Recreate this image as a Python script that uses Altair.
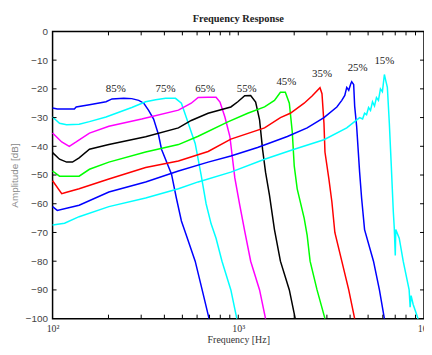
import altair as alt
import pandas as pd

# ---- data (frequency in Hz, amplitude in dB) ----
series_names = ["85%", "75%", "65%", "55%", "45%", "35%", "25%", "15%"]
series_colors = ["#0000ff", "#00ffff", "#ff00ff", "#000000", "#00ff00", "#ff0000", "#0000ff", "#00ffff"]

f85 = [100, 106, 131, 134, 158, 194, 209, 242, 267, 291, 310, 329, 350, 372, 386, 437, 464, 494, 525, 586, 639, 696]
a85 = [-26.7, -27, -27, -26.3, -25.5, -24.5, -23.5, -23.3, -23.4, -24, -25, -27.5, -30.5, -36, -41, -49.7, -58, -66, -71, -80, -90, -100]

f75 = [100, 109, 119, 139, 158, 194, 267, 317, 359, 406, 459, 494, 525, 558, 586, 631, 671, 714, 759, 817, 912, 982]
a75 = [-29.8, -32, -32.5, -32.3, -31.4, -29.8, -26.5, -24.5, -23.8, -23.3, -23.3, -25, -30, -35, -39, -50, -60, -67, -72, -80, -90, -100]

f65 = [100, 112, 123, 134, 158, 201, 302, 476, 558, 608, 688, 759, 797, 847, 901, 958, 1019, 1083, 1166, 1302, 1402]
a65 = [-35.4, -38.5, -40, -38.5, -35.4, -33, -30.5, -27.4, -25, -23, -22.9, -22.9, -24.6, -29.8, -36.6, -51, -60.6, -69.5, -80, -90, -100]

f55 = [100, 109, 119, 128, 139, 158, 201, 317, 476, 558, 688, 912, 994, 1083, 1166, 1240, 1302, 1351, 1402, 1472, 1566, 1686, 1883, 2026]
a55 = [-42.2, -44.5, -45.5, -45.5, -44, -41, -39.4, -36.7, -33.6, -31, -28.5, -26.3, -24.5, -22.4, -22.3, -24.6, -30.8, -41, -49, -57, -69, -80, -90, -100]

f45 = [100, 109, 139, 158, 201, 317, 476, 608, 879, 1124, 1385, 1566, 1686, 1792, 1883, 1953, 2001, 2076, 2263, 2349, 2436, 2655, 2929]
a45 = [-48.6, -50.4, -50.4, -48, -45.5, -42, -39.4, -36.5, -31.5, -28.5, -26.3, -24, -21.2, -21.2, -25, -35, -46.8, -54.8, -65, -71, -80, -90, -100]

f35 = [100, 112, 119, 139, 201, 317, 476, 688, 912, 1385, 1686, 1905, 2263, 2496, 2754, 2823, 2893, 2929, 3076, 3192, 3311, 3609, 3933, 4233]
a35 = [-52, -56.5, -56, -54.8, -51.4, -47.4, -45.1, -41.8, -37.5, -33.6, -30, -28.5, -25, -22.5, -19.6, -21.7, -32, -42, -51.4, -59.4, -70, -80, -90, -100]

f25 = [100, 106, 139, 201, 317, 476, 688, 912, 1270, 1837, 2349, 2893, 3394, 3609, 3745, 3837, 3933, 4030, 4080, 4181, 4233, 4338, 4501, 4613, 4786, 5346, 5754, 6119]
a25 = [-61, -62.3, -60.5, -55.9, -52.4, -48.6, -45.5, -43.4, -40.4, -36.6, -33.6, -30, -26.3, -24, -22.3, -19.5, -20.5, -18.3, -17.5, -18.5, -26, -33, -49, -58, -69, -80, -90, -100]

f15 = [100, 116, 139, 201, 317, 476, 608, 912, 1385, 2001, 2893, 3837, 4501, 4670, 4786, 4906, 5028, 5152, 5280, 5412, 5546, 5685, 5826, 5970, 6119, 6194, 6271, 6349, 6506, 6668, 6834, 6918, 7004, 7047, 7356, 7727, 8318, 8420, 8524, 8737, 9290]
a15 = [-67.4, -66.8, -64.5, -61, -58, -54.8, -52.4, -49, -44.5, -41, -37.7, -33.6, -30, -30.5, -28.5, -29, -26.5, -27.5, -24.5, -26, -23, -24, -20, -21, -15, -16.5, -18, -19.5, -32, -47, -62.7, -68.5, -78, -69, -72, -80, -90, -96, -92, -95, -100]

label_freq = [219, 406, 663, 1110, 1815, 2823, 4392, 6119]
label_db = [-20.2, -20.2, -20.2, -20.2, -17.5, -14.7, -12.7, -10.3]

x_minor_ticks = [200, 300, 400, 500, 600, 700, 800, 900, 1000, 2000, 3000, 4000, 5000, 6000, 7000, 8000, 9000]
y_ticks = [-90, -80, -70, -60, -50, -40, -30, -20, -10]
y_labels = [0, -10, -20, -30, -40, -50, -60, -70, -80, -90, -100]

# ---- tables ----
freqs = [f85, f75, f65, f55, f45, f35, f25, f15]
amps = [a85, a75, a65, a55, a45, a35, a25, a15]
rows = []
for name, fs, as_ in zip(series_names, freqs, amps):
    for i, (f, a) in enumerate(zip(fs, as_)):
        rows.append({"series": name, "freq": f, "amp": a, "idx": i})
df = pd.DataFrame(rows)
labels_df = pd.DataFrame({"series": series_names, "freq": label_freq, "amp": label_db})
xt_df = pd.DataFrame({"freq": x_minor_ticks})
yt_df = pd.DataFrame({"amp": y_ticks})

W, H = 375, 290
xscale = alt.Scale(type="log", domain=[100, 10000], nice=False)
yscale = alt.Scale(domain=[-100, 0], nice=False)

x_axis = alt.Axis(
    values=[100, 1000, 10000],
    labelExpr="datum.value == 100 ? '10\u00b2' : (datum.value == 1000 ? '10\u00b3' : '10\u2074')",
    labelFont="Liberation Serif", labelFontSize=10, labelColor="#333",
    labelPadding=5, labelFlush=False, labelOverlap=False, labelBound=False,
    ticks=False, domain=False, grid=False,
    title="Frequency [Hz]", titleFont="Liberation Serif", titleFontSize=10,
    titleFontWeight="normal", titleColor="#333", titleY=21, titleBaseline="middle",
)
y_axis = alt.Axis(
    values=y_labels,
    labelFont="Liberation Sans", labelFontSize=10, labelColor="#444",
    labelPadding=5, labelOverlap=False, ticks=False, domain=False, grid=False,
    title="Amplitude [dB]", titleFont="Liberation Sans", titleFontSize=10,
    titleFontWeight="normal", titleColor="#888", titleX=-38, titleY=H / 2,
    titleBaseline="middle", titleAngle=270,
)


def X(field="freq"):
    return alt.X(f"{field}:Q", scale=xscale, axis=x_axis)


def Y(field="amp"):
    return alt.Y(f"{field}:Q", scale=yscale, axis=y_axis)


lines = alt.Chart(df).mark_line(strokeWidth=1.5).encode(
    x=X(),
    y=Y(),
    color=alt.Color("series:N", scale=alt.Scale(domain=series_names, range=series_colors), legend=None),
    detail="series:N",
    order="idx:Q",
)

texts = alt.Chart(labels_df).mark_text(
    font="Liberation Serif", fontSize=11, color="#222", align="center", baseline="middle"
).encode(x=X(), y=Y(), text="series:N")

tick_style = dict(color="black", strokeWidth=1)
bottom_ticks = alt.Chart(xt_df).mark_rule(**tick_style).encode(
    x=X(), y=alt.value(H), y2=alt.value(H - 4)
)
top_ticks = alt.Chart(xt_df).mark_rule(**tick_style).encode(
    x=X(), y=alt.value(0), y2=alt.value(4)
)
left_ticks = alt.Chart(yt_df).mark_rule(**tick_style).encode(
    y=Y(), x=alt.value(0), x2=alt.value(4)
)
right_ticks = alt.Chart(yt_df).mark_rule(**tick_style).encode(
    y=Y(), x=alt.value(W), x2=alt.value(W - 4)
)

chart = alt.layer(lines, texts, bottom_ticks, top_ticks, left_ticks, right_ticks).properties(
    width=W, height=H,
    title=alt.TitleParams("Frequency Response", font="Liberation Serif", fontSize=10.5,
                          fontWeight="bold", color="#222", anchor="middle", offset=2),
    autosize=alt.AutoSizeParams(type="none"),
    padding={"left": 45, "top": 22, "right": 0, "bottom": 27},
).configure_view(stroke="black", strokeWidth=1.5)

chart.save("out.html", embed_options={"renderer": "svg", "actions": False})
